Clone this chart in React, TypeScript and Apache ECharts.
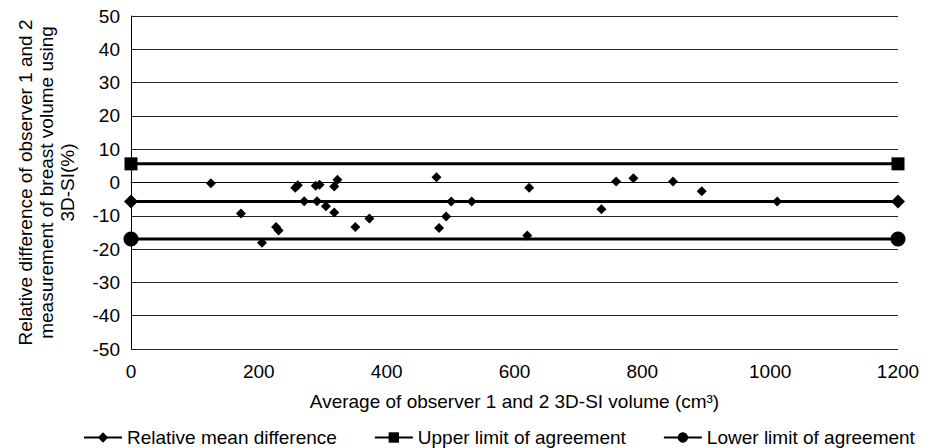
import React, { useEffect, useRef } from "react";
import * as echarts from "echarts";

const xTicks = [0, 200, 400, 600, 800, 1000, 1200];
const meanDiff = -5.7;
const upperLimit = 5.6;
const lowerLimit = -17.0;

const avgVolume = [
  125, 172, 205, 227, 231, 257, 261, 271, 289, 295, 291, 305, 318, 318, 323, 351, 373,
  478, 482, 493, 501, 533, 623, 620, 736, 759, 786, 848, 893, 1011,
];
const relDiff = [
  -0.2, -9.3, -18.1, -13.4, -14.4, -1.6, -0.8, -5.6, -1.0, -0.7, -5.6, -7.1, -9.0, -1.2, 0.8, -13.4, -10.8,
  1.6, -13.7, -10.2, -5.7, -5.7, -1.6, -15.9, -8.0, 0.3, 1.3, 0.3, -2.6, -5.7,
];

const FONT = "Liberation Sans, Arial, sans-serif";
const FS = 19;

export default function App() {
  const ref = useRef<HTMLDivElement>(null);
  useEffect(() => {
    if (!ref.current) return;
    const chart = echarts.init(ref.current, null, { renderer: "svg" });
    const xMin = xTicks[0];
    const xMax = xTicks[xTicks.length - 1];
    chart.setOption({
      animation: false,
      backgroundColor: "#fff",
      textStyle: { fontFamily: FONT },
      grid: { left: 131, right: 37, top: 16, bottom: 99 },
      legend: {
        data: ["Relative mean difference", "Upper limit of agreement", "Lower limit of agreement"],
        left: 78,
        top: 423,
        itemWidth: 38,
        itemHeight: 13,
        itemGap: 37,
        textStyle: { fontSize: FS, color: "#000", fontFamily: FONT },
      },
      xAxis: {
        type: "value",
        min: xMin,
        max: xMax,
        interval: 200,
        name: "Average of observer 1 and 2 3D-SI volume (cm\u00b3)",
        nameLocation: "middle",
        nameGap: 43,
        nameTextStyle: { fontSize: FS, color: "#000", fontFamily: FONT },
        axisLine: { show: true, lineStyle: { color: "#000", width: 1 } },
        axisTick: { show: false },
        axisLabel: {
          fontSize: FS,
          color: "#000",
          margin: 13,
          fontFamily: FONT,
          formatter: (v: number) => String(v),
        },
        splitLine: { show: false },
      },
      yAxis: {
        type: "value",
        min: -50,
        max: 50,
        interval: 10,
        name: "Relative difference of observer 1 and 2\nmeasurement of breast volume using\n3D-SI(%)",
        nameLocation: "middle",
        nameRotate: 90,
        nameGap: 53,
        nameTextStyle: { fontSize: FS, color: "#000", lineHeight: 21, fontFamily: FONT, align: "center" },
        axisLine: { show: true, lineStyle: { color: "#000", width: 1 } },
        axisTick: { show: false },
        axisLabel: { fontSize: FS, color: "#000", margin: 11, fontFamily: FONT },
        splitLine: { show: true, lineStyle: { color: "#222", width: 1 } },
      },
      series: [
        {
          name: "Relative mean difference",
          type: "line",
          data: [[xMin, meanDiff], [xMax, meanDiff]],
          symbol: "diamond",
          symbolSize: 14,
          itemStyle: { color: "#000", opacity: 1 },
          lineStyle: { color: "#000", width: 3 },
          z: 3,
        },
        {
          name: "Upper limit of agreement",
          type: "line",
          data: [[xMin, upperLimit], [xMax, upperLimit]],
          symbol: "rect",
          symbolSize: 13,
          itemStyle: { color: "#000", opacity: 1 },
          lineStyle: { color: "#000", width: 3 },
          z: 3,
        },
        {
          name: "Lower limit of agreement",
          type: "line",
          data: [[xMin, lowerLimit], [xMax, lowerLimit]],
          symbol: "circle",
          symbolSize: 15,
          itemStyle: { color: "#000", opacity: 1 },
          lineStyle: { color: "#000", width: 3 },
          z: 3,
        },
        {
          name: "points",
          type: "scatter",
          data: avgVolume.map((v, i) => [v, relDiff[i]]),
          symbol: "diamond",
          symbolSize: 10,
          itemStyle: { color: "#000", opacity: 1 },
          z: 4,
        },
      ],
    });
    return () => chart.dispose();
  }, []);
  return (
    <div
      ref={ref}
      style={{ position: "fixed", left: 0, top: 0, width: 935, height: 448, background: "#fff" }}
    />
  );
}
